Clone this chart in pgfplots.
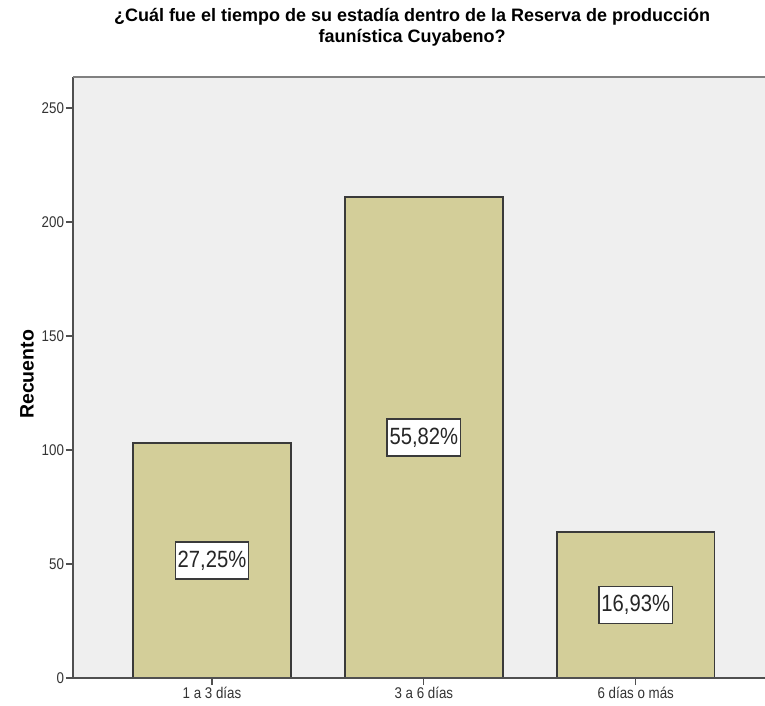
\documentclass[border=0pt]{standalone}
\usepackage{fontspec}
\setmainfont{Liberation Sans}
\newfontfamily\narrowfont{Liberation Sans}[FakeStretch=0.86]
\usepackage{pgfplots}
\pgfplotsset{compat=1.18}

\definecolor{plotbg}{HTML}{EFEFEF}
\definecolor{barfill}{HTML}{D3CE99}
\definecolor{baredge}{HTML}{3A3A3A}
\definecolor{axisgray}{HTML}{505050}

% counts per category, and percentage of total (N = 378)
\pgfplotstableread{
x  count  half   pct
0  103    51.5   27.25
1  211    105.5  55.82
2  64     32     16.93
}\stay

\begin{document}
\begin{tikzpicture}
\begin{axis}[
  at={(0,0)}, anchor=south west,
  scale only axis, width=692pt, height=601pt,
  xmin=-0.656, xmax=2.61, ymin=0, ymax=263.6,
  axis background/.style={fill=plotbg},
  axis line style={draw=none},
  xtick={0,1,2}, xticklabels={1 a 3 días, 3 a 6 días, 6 días o más},
  ytick={0,50,100,150,200,250},
  tick pos=left, tick align=outside, major tick length=7pt,
  tick style={axisgray, line width=1.2pt},
  ticklabel style={font=\narrowfont\fontsize{15.5}{17}\selectfont, text=black!80},
  /pgf/number format/assume math mode=true,
  xticklabel style={yshift=1pt},
  yticklabel style={xshift=1.5pt},
  every axis y label/.style={at={(axis description cs:-0.0665,0.505)},
    rotate=90, anchor=center, font=\bfseries\fontsize{19.5}{21}\selectfont},
  ylabel={Recuento},
  every axis title/.style={at={(axis description cs:0.49,1.083)},
    anchor=center, align=center, font=\bfseries\fontsize{18}{21}\selectfont},
  title={¿Cuál fue el tiempo de su estadía dentro de la Reserva de producción\\faunística Cuyabeno?},
  clip=false,
]
\addplot[ybar, bar width=0.745, fill=barfill, draw=baredge, line width=1.4pt]
  table[x=x, y=count] {\stay};
\addplot[draw=none, mark=none,
  point meta=explicit,
  nodes near coords={\pgfmathprintnumber[fixed,fixed zerofill,precision=2,use comma]{\pgfplotspointmeta}\%},
  nodes near coords align=center,
  every node near coord/.style={fill=white, draw=baredge, line width=1.4pt,
    inner xsep=2.5pt, minimum height=37pt,
    font=\narrowfont\fontsize{23.5}{25}\selectfont, text=black!85}]
  table[x=x, y=half, meta=pct] {\stay};
\draw[axisgray, line width=1.4pt] (rel axis cs:1,0) -- (rel axis cs:0,0) -- (rel axis cs:0,1);
\draw[black!50, line width=2pt] (rel axis cs:0,1) -- (rel axis cs:1,1);
\end{axis}
\pgfresetboundingbox
\path[use as bounding box] (-73pt,-28pt) rectangle (692pt,678pt);
\end{tikzpicture}
\end{document}
